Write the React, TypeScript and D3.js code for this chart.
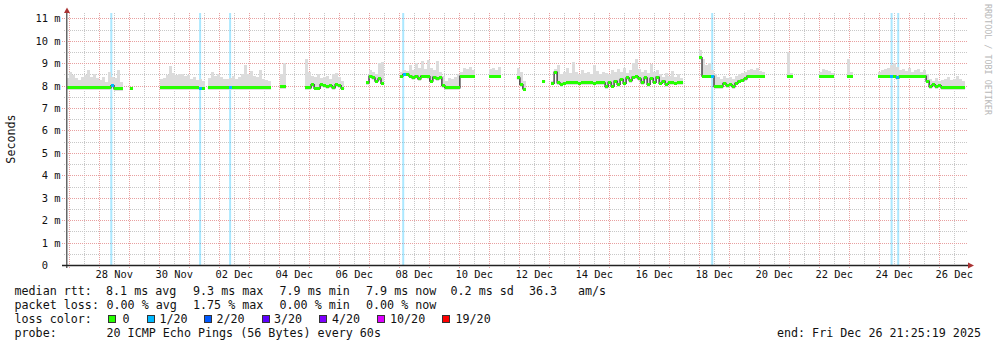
import React from "react";
import * as d3 from "d3";

const W = 997;
const H = 347;
const DAY = 86400000;
const startTime = Date.UTC(2025, 10, 26, 21, 25, 19);
const endTime = Date.UTC(2025, 11, 26, 21, 25, 19);
const STEP_DAYS = 0.1;

// segment start (days since chart start), samples every STEP_DAYS
const segmentStartDays = [0, 2.13, 3.13, 4.73, 7.13, 7.97, 10.0, 11.13, 14.1, 15.03, 15.87, 16.17, 21.1, 24.03, 25.1, 26.03, 27.07];

// median rtt (ms)
const medianSegments: number[][] = [
  [7.9, 7.9, 7.9, 7.9, 7.9, 7.9, 7.9, 7.9, 7.9, 7.9, 7.9, 7.9, 7.9, 7.9, 7.9, 8.0, 7.86, 7.86, 7.86],
  [7.88],
  [7.9, 7.9, 7.9, 7.9, 7.9, 7.9, 7.9, 7.9, 7.9, 7.9, 7.9, 7.9, 7.9, 7.88, 7.88],
  [7.9, 7.9, 7.9, 7.9, 7.9, 7.9, 7.9, 7.9, 7.9, 7.9, 7.9, 7.9, 7.9, 7.9, 7.9, 7.9, 7.9, 7.9, 7.9, 7.9, 7.9],
  [7.95, 7.95],
  [7.9, 7.9, 8.05, 7.88, 7.88, 8.05, 8.0, 7.95, 8.0, 7.9, 8.05, 8.0, 7.88],
  [8.12, 8.42, 8.35, 8.2, 8.3, 8.1],
  [8.42, 8.5, 8.5, 8.42, 8.35, 8.42, 8.3, 8.42, 8.42, 8.4, 8.2, 8.38, 8.3, 8.35, 8.0, 7.9, 7.9, 7.9, 7.9, 7.9, 8.42, 8.42, 8.42, 8.42, 8.42],
  [8.42, 8.42, 8.42, 8.42],
  [8.35, 8.05, 7.85],
  [8.2],
  [8.1, 8.6, 8.12, 8.05, 8.1, 8.12, 8.12, 8.12, 8.12, 8.1, 8.12, 8.12, 8.12, 8.12, 8.1, 8.12, 8.12, 8.12, 7.95, 8.15, 7.98, 8.2, 8.05, 8.28, 8.1, 8.35, 8.22, 8.38, 8.4, 8.3, 8.12, 8.35, 8.05, 8.32, 8.15, 8.38, 8.1, 8.2, 8.05, 8.12, 8.12, 8.1, 8.12, 8.12],
  [9.25, 8.42, 8.42, 8.42, 8.42, 7.95, 7.95, 7.95, 8.1, 8.0, 8.05, 7.95, 8.1, 8.2, 8.25, 8.3, 8.43, 8.43, 8.43, 8.43, 8.43, 8.43],
  [8.42, 8.42],
  [8.43, 8.43, 8.43, 8.43, 8.43],
  [8.42, 8.42],
  [8.43, 8.43, 8.43, 8.43, 8.43, 8.43, 8.35, 8.43, 8.43, 8.43, 8.43, 8.43, 8.43, 8.43, 8.43, 8.43, 8.2, 7.95, 8.05, 7.95, 8.0, 7.9, 7.9, 7.9, 7.9, 7.9, 7.9, 7.9, 7.9],
];

// max ping of each sample (top of the smoke, ms)
const smokeTopSegments: number[][] = [
  [8.32, 8.61, 8.46, 8.32, 8.24, 8.39, 8.46, 8.69, 8.39, 8.54, 8.32, 8.24, 8.39, 8.17, 8.61, 8.39, 8.32, 8.69, 8.17],
  [7.95],
  [8.3, 8.35, 8.46, 8.87, 8.55, 8.46, 8.52, 8.5, 8.44, 8.48, 8.3, 8.4, 8.25, 8.3, 8.2],
  [8.35, 8.61, 8.45, 8.5, 8.4, 8.3, 8.3, 8.35, 8.45, 8.3, 8.4, 8.5, 8.91, 8.5, 8.65, 8.45, 8.4, 8.69, 8.3, 8.25, 8.2],
  [8.5, 9.0],
  [9.2, 8.6, 8.45, 8.4, 8.5, 8.35, 8.4, 8.45, 8.3, 8.5, 8.55, 8.4, 8.2],
  [8.15, 8.7, 8.6, 8.5, 9.0, 9.05],
  [8.6, 8.7, 8.65, 8.9, 8.7, 9.0, 8.8, 9.1, 8.75, 9.15, 8.8, 8.7, 9.1, 8.6, 8.45, 8.2, 8.35, 8.3, 8.4, 8.5, 8.6, 8.8, 8.75, 8.85, 8.7],
  [8.75, 8.8, 8.7, 8.85],
  [8.8, 8.6, 8.2],
  [8.22],
  [8.2, 8.75, 8.9, 8.5, 8.6, 8.8, 8.55, 9.05, 8.6, 8.5, 8.7, 8.55, 8.6, 8.5, 8.9, 8.65, 8.5, 8.6, 8.55, 8.5, 8.7, 8.6, 8.75, 8.6, 8.8, 8.55, 8.7, 9.0, 9.2, 8.75, 8.6, 8.7, 8.55, 8.95, 8.6, 8.7, 8.5, 8.4, 8.55, 8.45, 8.65, 8.4, 8.5, 8.35],
  [9.6, 9.2, 8.9, 9.0, 8.7, 8.5, 8.4, 8.3, 8.45, 8.35, 8.4, 8.3, 8.45, 8.5, 8.55, 8.6, 8.7, 8.75, 8.7, 8.8, 8.65, 8.6],
  [9.5, 8.55],
  [8.6, 8.75, 8.7, 8.65, 8.55],
  [9.2, 8.6],
  [8.6, 8.7, 8.75, 8.8, 8.9, 9.0, 8.85, 8.7, 8.75, 8.65, 8.8, 8.6, 8.7, 8.75, 8.6, 8.7, 8.5, 8.3, 8.2, 8.35, 8.2, 8.25, 8.3, 8.4, 8.25, 8.3, 8.45, 8.3, 8.2],
];

// moments with 1/20 packet loss (days since chart start)
const lossDays = [1.51, 4.47, 5.47, 11.24, 21.54, 27.52, 27.74];

const yTicks = [0, 1, 2, 3, 4, 5, 6, 7, 8, 9, 10, 11];
const yTickLabels = ["0  ", "1 m", "2 m", "3 m", "4 m", "5 m", "6 m", "7 m", "8 m", "9 m", "10 m", "11 m"];
const xTickDates = [
  "2025-11-28T12:00:00Z", "2025-11-30T12:00:00Z", "2025-12-02T12:00:00Z", "2025-12-04T12:00:00Z",
  "2025-12-06T12:00:00Z", "2025-12-08T12:00:00Z", "2025-12-10T12:00:00Z", "2025-12-12T12:00:00Z",
  "2025-12-14T12:00:00Z", "2025-12-16T12:00:00Z", "2025-12-18T12:00:00Z", "2025-12-20T12:00:00Z",
  "2025-12-22T12:00:00Z", "2025-12-24T12:00:00Z", "2025-12-26T12:00:00Z",
];

const rttItems = ["median rtt:", "8.1 ms avg", "9.3 ms max", "7.9 ms min", "7.9 ms now", "0.2 ms sd", "36.3", "am/s"];
const lossItems = ["packet loss:", "0.00 % avg", "1.75 % max", "0.00 % min", "0.00 % now"];
const colorTitle = "loss color:";
const probeItems = ["probe:", "20 ICMP Echo Pings (56 Bytes) every 60s"];
const lossLabels = ["0", "1/20", "2/20", "3/20", "4/20", "10/20", "19/20"];
const lossColors = ["#26ff00", "#00b8ff", "#0059ff", "#5e00ff", "#7e00ff", "#dd00ff", "#ff0000"];
const endLabel = "end: Fri Dec 26 21:25:19 2025";

const MONO = "'DejaVu Sans Mono', monospace";

export default function App() {
  const x = d3.scaleUtc().domain([startTime, endTime]).range([66, 966]);
  const y = d3.scaleLinear().domain([0, 11.24]).range([265, 13]);
  const fmt = d3.utcFormat("%d %b");

  const segments = segmentStartDays.map((sd, si) =>
    medianSegments[si].map((m, i) => {
      const d0 = sd + i * STEP_DAYS;
      const d1 = d0 + STEP_DAYS;
      const loss = lossDays.some((ld) => ld >= d0 && ld < d1);
      return { t0: startTime + d0 * DAY, t1: startTime + d1 * DAY, m, s: smokeTopSegments[si][i], loss };
    })
  );

  const line = d3
    .line<[number, number]>()
    .x((d) => x(d[0]))
    .y((d) => y(d[1]))
    .curve(d3.curveStepAfter);

  const minorY = d3.range(0.5, 11.01, 0.5).filter((v) => Math.abs(v - Math.round(v)) > 0.01);
  const days = d3.utcDay.range(new Date(startTime), new Date(endTime));
  const noons = d3.utcHour.every(12)!.range(new Date(startTime), new Date(endTime)).filter((d) => d.getUTCHours() === 12);

  const legendY = [295, 309, 323, 337];
  const rttX = [14.5, 106, 193, 279.5, 366, 450.5, 529, 578];
  const lossX = [14.5, 106.5, 193, 279.5, 366];
  const probeX = [14.5, 106.5];
  const boxX = [107.5, 147, 204, 261.5, 319, 377, 442];
  const boxTextX = [122.5, 159.5, 216.5, 274, 332, 390, 455.5];

  const txt = (s: string, xx: number, yy: number, key: string) => (
    <text key={key} x={xx} y={yy} fontFamily={MONO} fontSize={11.7} fill="#111" style={{ whiteSpace: "pre" }}>
      {s}
    </text>
  );

  return (
    <div style={{ position: "absolute", left: 0, top: 0 }}>
      <svg width={W} height={H} viewBox={`0 0 ${W} ${H}`} style={{ display: "block", background: "#fff" }}>
        <rect x={0} y={0} width={W} height={H} fill="#fff" />
        {/* grid */}
        <g shapeRendering="crispEdges">
          {minorY.map((v) => (
            <line key={"my" + v} x1={64} x2={968} y1={Math.round(y(v)) + 0.5} y2={Math.round(y(v)) + 0.5} stroke="#c8c8c8" strokeDasharray="1,1" />
          ))}
          {noons.map((d, i) => (
            <line key={"mx" + i} x1={Math.round(x(d)) + 0.5} x2={Math.round(x(d)) + 0.5} y1={13} y2={265} stroke="#c8c8c8" strokeDasharray="1,1" />
          ))}
          {yTicks.slice(1).map((v) => (
            <line key={"My" + v} x1={62} x2={968} y1={Math.round(y(v)) + 0.5} y2={Math.round(y(v)) + 0.5} stroke="#e8a0a0" strokeDasharray="1,1" />
          ))}
          {days.map((d, i) => (
            <line key={"Mx" + i} x1={Math.round(x(d)) + 0.5} x2={Math.round(x(d)) + 0.5} y1={13} y2={268} stroke="#e8a0a0" strokeDasharray="1,1" />
          ))}
        </g>
        {/* loss background */}
        {lossDays.map((ld, i) => {
          const xx = x(startTime + ld * DAY);
          return <rect key={"lb" + i} x={xx - 1} y={13} width={2} height={252} fill="#00b8ff" opacity={0.33} />;
        })}
        {/* smoke */}
        <g shapeRendering="crispEdges">
          {segments.flat().map((p, i) => (
            <rect key={"s" + i} x={x(p.t0)} width={x(p.t1) - x(p.t0)} y={y(p.s)} height={Math.max(0, y(p.m) + 2 - y(p.s))} fill="#dcdcdc" />
          ))}
        </g>
        {/* median black line */}
        {segments.map((seg, si) => {
          const pts: [number, number][] = seg.map((p) => [p.t0, p.m] as [number, number]);
          pts.push([seg[seg.length - 1].t1, seg[seg.length - 1].m]);
          return <path key={"ml" + si} d={line(pts) || ""} fill="none" stroke="#202020" strokeWidth={1.2} />;
        })}
        {/* median band coloured by loss */}
        <g shapeRendering="crispEdges">
          {segments.flat().map((p, i) => (
            <rect key={"m" + i} x={x(p.t0)} width={x(p.t1) - x(p.t0)} y={y(p.m) - 1.5} height={3} fill={p.loss ? lossColors[1] : lossColors[0]} />
          ))}
        </g>
        {/* axes */}
        <line x1={66.75} x2={66.75} y1={13} y2={268} stroke="#666" strokeWidth={1.5} />
        <line x1={62} x2={968} y1={265.5} y2={265.5} stroke="#222" strokeWidth={1.3} />
        <polygon points="67,7.5 64,13 70,13" fill="#a33" />
        <polygon points="974,265.5 968,262.5 968,268.5" fill="#a33" />
        {/* y labels */}
        {yTicks.map((v, i) => (
          <text key={"yl" + v} x={60.5} y={y(v) + 4} textAnchor="end" fontFamily={MONO} fontSize={10.4} fill="#111" style={{ whiteSpace: "pre" }}>
            {yTickLabels[i]}
          </text>
        ))}
        {/* x labels */}
        {xTickDates.map((s) => (
          <text key={s} x={x(new Date(s))} y={278} textAnchor="middle" fontFamily={MONO} fontSize={10.4} fill="#111">
            {fmt(new Date(s))}
          </text>
        ))}
        {/* axis title */}
        <text transform="translate(15,139) rotate(-90)" textAnchor="middle" fontFamily={MONO} fontSize={11.7} fill="#111">
          Seconds
        </text>
        {/* watermark */}
        <text transform="translate(984.5,4) rotate(90)" textAnchor="start" fontFamily={MONO} fontSize={8.4} fill="#b8b8b8">
          RRDTOOL / TOBI OETIKER
        </text>
        {/* legend */}
        {rttItems.map((s, i) => txt(s, rttX[i], legendY[0], "r" + i))}
        {lossItems.map((s, i) => txt(s, lossX[i], legendY[1], "p" + i))}
        {txt(colorTitle, 14.5, legendY[2], "ct")}
        {lossLabels.map((l, i) => (
          <g key={"ll" + i}>
            <rect x={boxX[i] + 0.5} y={315.5} width={7} height={7} fill={lossColors[i]} stroke="#333" strokeWidth={1} shapeRendering="crispEdges" />
            {txt(l, boxTextX[i], legendY[2], "lt" + i)}
          </g>
        ))}
        {probeItems.map((s, i) => txt(s, probeX[i], legendY[3], "pr" + i))}
        <text x={981} y={legendY[3]} textAnchor="end" fontFamily={MONO} fontSize={11.7} fill="#111">
          {endLabel}
        </text>
      </svg>
    </div>
  );
}
